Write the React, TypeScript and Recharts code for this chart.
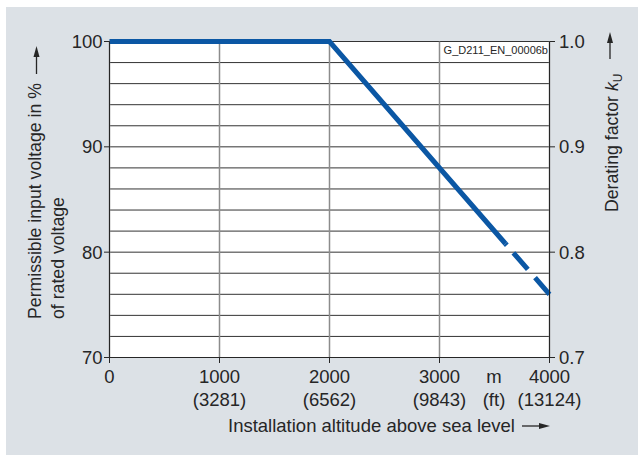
import React from "react";
import { LineChart, Line, XAxis, YAxis, CartesianGrid } from "recharts";

// altitude axis (m) and matching feet labels
const altitudeTicks = [0, 1000, 2000, 3000, 4000];
const altitudeFeet = ["", "(3281)", "(6562)", "(9843)", "(13124)"];

// left axis: grid every 2 %, labels every 10 %
const voltageGrid = [70, 72, 74, 76, 78, 80, 82, 84, 86, 88, 90, 92, 94, 96, 98, 100];
const voltageLabels = [70, 80, 90, 100];

// right axis: derating factor kU
const deratingTicks = [0.7, 0.8, 0.9, 1.0];

// derating curve, solid part and dashed tail
const solidAltitude = [0, 2000, 3600];
const solidVoltage = [100, 100, 80.8];
const dashedAltitude = [3600, 4000];
const dashedVoltage = [80.8, 76];

const solidData = solidAltitude.map((alt, i) => ({ alt, pct: solidVoltage[i], k: solidVoltage[i] / 100 }));
const dashedData = dashedAltitude.map((alt, i) => ({ alt, pct: dashedVoltage[i], k: dashedVoltage[i] / 100 }));

const FONT = '"Liberation Sans", Arial, Helvetica, sans-serif';
const FS = 18.5;
const INK = "#262626";
const BLUE = "#0b57a4";
const LEFT = 109.5;
const RIGHT = 549.5;
const BOTTOM = 357.5;

function LeftTick({ y, payload }: any) {
  if (!voltageLabels.includes(payload.value)) return <g />;
  return (
    <g>
      <line x1={104} x2={LEFT} y1={y} y2={y} stroke={INK} />
      <text x={102.5} y={y} dy="0.35em" textAnchor="end" fontSize={FS} fontFamily={FONT} fill={INK}>
        {payload.value}
      </text>
    </g>
  );
}

function RightTick({ y, payload }: any) {
  return (
    <g>
      <line x1={RIGHT} x2={555} y1={y} y2={y} stroke={INK} />
      <text x={559} y={y} dy="0.35em" textAnchor="start" fontSize={FS} fontFamily={FONT} fill={INK}>
        {Number(payload.value).toFixed(1)}
      </text>
    </g>
  );
}

function BottomTick({ x, payload }: any) {
  const i = altitudeTicks.indexOf(payload.value);
  return (
    <g>
      <line x1={x} x2={x} y1={BOTTOM} y2={363} stroke={INK} />
      <text x={x} y={383} textAnchor="middle" fontSize={FS} fontFamily={FONT} fill={INK}>
        {payload.value}
      </text>
      <text x={x} y={405.5} textAnchor="middle" fontSize={FS} fontFamily={FONT} fill={INK}>
        {altitudeFeet[i]}
      </text>
    </g>
  );
}

function Titles() {
  return (
    <g fontFamily={FONT} fill={INK}>
      {/* left axis title */}
      <text transform="translate(41,319) rotate(-90)" fontSize={17.7}>
        Permissible input voltage in %
      </text>
      <text transform="translate(64,319) rotate(-90)" fontSize={17.7}>
        of rated voltage
      </text>
      <line x1={36.5} x2={36.5} y1={74} y2={56} stroke={INK} strokeWidth={1.3} />
      <path d="M36.5 46 L33.5 57 L39.5 57 Z" fill={INK} />

      {/* right axis title */}
      <text transform="translate(618,212) rotate(-90)" fontSize={17.7}>
        Derating factor <tspan fontStyle="italic">k</tspan>
        <tspan fontSize={12} dy={4}>U</tspan>
      </text>
      <line x1={610} x2={610} y1={59} y2={42} stroke={INK} strokeWidth={1.3} />
      <path d="M610 32 L607 43 L613 43 Z" fill={INK} />

      {/* bottom axis */}
      <text x={494} y={383} textAnchor="middle" fontSize={FS}>m</text>
      <text x={494} y={405.5} textAnchor="middle" fontSize={FS}>(ft)</text>
      <text x={228} y={432} fontSize={FS}>Installation altitude above sea level</text>
      <line x1={522} x2={540} y1={426} y2={426} stroke={INK} strokeWidth={1.3} />
      <path d="M550 426 L539 423 L539 429 Z" fill={INK} />

      {/* drawing id */}
      <text x={548} y={54} textAnchor="end" fontSize={11}>G_D211_EN_00006b</text>
    </g>
  );
}

export default function App() {
  return (
    <div style={{ position: "absolute", left: 0, top: 0, width: 638, height: 457, background: "#fff" }}>
      <div style={{ position: "absolute", left: 6, top: 7, width: 632, height: 448, background: "#dce1e6" }} />
      <div style={{ position: "absolute", left: 0, top: 0 }}>
        <LineChart width={638} height={457} margin={{ top: 41.5, right: 28.5, bottom: 59.5, left: 49.5 }}>
          <CartesianGrid horizontal vertical={false} fill="#ffffff" stroke="#333333" strokeWidth={1} />
          <CartesianGrid horizontal={false} vertical stroke="#8c8c8c" strokeWidth={1.5} />
          <XAxis
            type="number"
            dataKey="alt"
            domain={[0, 4000]}
            ticks={altitudeTicks}
            height={40}
            axisLine={{ stroke: INK }}
            tickLine={false}
            tick={<BottomTick />}
            interval={0}
          />
          <YAxis
            type="number"
            domain={[70, 100]}
            ticks={voltageGrid}
            width={60}
            axisLine={{ stroke: INK }}
            tickLine={false}
            tick={<LeftTick />}
            interval={0}
          />
          <YAxis
            yAxisId="k"
            orientation="right"
            type="number"
            domain={[0.7, 1.0]}
            allowDataOverflow
            ticks={deratingTicks}
            width={60}
            axisLine={{ stroke: INK }}
            tickLine={false}
            tick={<RightTick />}
            interval={0}
          />
          {/* same curve as factor kU, invisible: only feeds the right axis */}
          <Line
            yAxisId="k"
            data={solidData}
            dataKey="k"
            type="linear"
            stroke="none"
            dot={false}
            activeDot={false}
            isAnimationActive={false}
          />
          <Line
            data={solidData}
            dataKey="pct"
            type="linear"
            stroke={BLUE}
            strokeWidth={5}
            dot={false}
            isAnimationActive={false}
          />
          <Line
            data={dashedData}
            dataKey="pct"
            type="linear"
            stroke={BLUE}
            strokeWidth={5}
            strokeDasharray="2 10 22 11 22 100"
            dot={false}
            isAnimationActive={false}
          />
          <Titles />
        </LineChart>
      </div>
    </div>
  );
}
